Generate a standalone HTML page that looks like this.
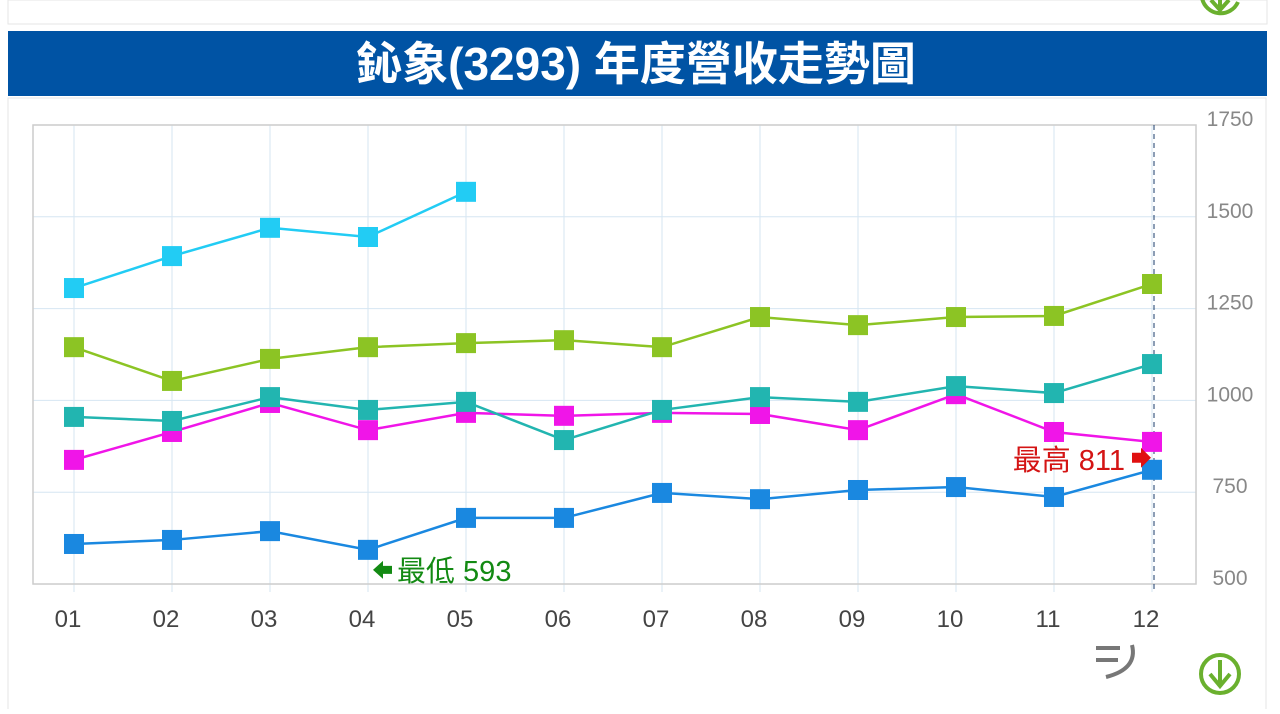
<!DOCTYPE html>
<html><head><meta charset="utf-8"><style>
body{margin:0;width:1280px;height:709px;background:#fff;overflow:hidden;font-family:"Liberation Sans","Noto Sans CJK TC",sans-serif;}
</style></head><body>
<svg width="1280" height="709">
<rect x="8" y="0" width="1259" height="24" fill="#fff" stroke="#e6e6e6"/>
<rect x="8" y="98" width="1258" height="620" fill="#fff" stroke="#e6e6e6"/>
<rect x="8" y="31" width="1259" height="65" fill="#0053a4"/>
<text x="636" y="80" text-anchor="middle" fill="#fff" font-size="46" font-weight="bold" font-family="'Liberation Sans','Noto Sans CJK TC',sans-serif">鈊象(3293) 年度營收走勢圖</text>
<g id="plot"></g>
<path d="M1096 648 h24 M1096 660 h22 M1132 645 q6 24 -26 32" stroke="#777" stroke-width="4" fill="none"/>
<g><circle cx="1220" cy="674" r="19" fill="none" stroke="#6ab02e" stroke-width="4"/><path d="M1220 660 v26 M1210 674 l10 12 10-12" stroke="#6ab02e" stroke-width="4" fill="none"/></g>
<g><path d="M1202 -2 a19 19 0 0 0 36 4" stroke="#6ab02e" stroke-width="4" fill="none"/><path d="M1220 -8 v18 M1211 0 l9 10 9-10" stroke="#6ab02e" stroke-width="4" fill="none"/></g>
</svg>
<script>
const months=["01","02","03","04","05","06","07","08","09","10","11","12"];
const yTicks=[500,750,1000,1250,1500,1750];
const s2024=[1306,1393,1470,1445,1568];
const s2023=[1145,1053,1113,1145,1156,1164,1145,1227,1205,1227,1230,1317];
const s2022=[955,944,1009,974,996,892,974,1009,996,1039,1020,1099];
const s2021=[838,914,993,919,966,958,966,963,919,1017,914,887];
const s2020=[609,620,644,593,680,680,748,731,756,764,737,811];
const minLabel="最低 593", maxLabel="最高 811";
const NS="http://www.w3.org/2000/svg";
const L=33,R=1196,T=125,B=584,x0=74,dx=98;
const X=i=>x0+i*dx, Y=v=>B-(v-500)*(B-T)/1250;
const g=document.getElementById('plot');
function el(t,a,p){const e=document.createElementNS(NS,t);for(const k in a)e.setAttribute(k,a[k]);(p||g).appendChild(e);return e;}
yTicks.forEach(v=>{const l=el('line',{x1:L,x2:R,y1:Y(v),y2:Y(v),stroke:'#d6e6f2'});


const t=el('text',{x:1230,y:Y(v)+1,'text-anchor':'middle','font-size':21,fill:'#888'});t.textContent=v;

});
months.forEach((m,i)=>{const l=el('line',{x1:X(i),x2:X(i),y1:T,y2:B+8,stroke:'#d6e6f2'});


const t=el('text',{x:X(i)-6,y:627,'text-anchor':'middle','font-size':24,fill:'#444'});t.textContent=m;

});
const bd=el('rect',{x:L,y:T,width:R-L,height:B-T,fill:'none',stroke:'#ccc','stroke-width':1.5});


const dl=el('line',{x1:X(11)+2,x2:X(11)+2,y1:T,y2:B+8,stroke:'#1a3b6b','stroke-dasharray':'5,4'});


const series=[[s2020,'#1a88e0','series-2020'],[s2021,'#f015e8','series-2021'],[s2022,'#22b5b0','series-2022'],[s2023,'#8cc424','series-2023'],[s2024,'#22ccf4','series-2024']];
series.forEach(([d,c,n])=>{const sg=el('g',{});


const p=el('polyline',{points:d.map((v,i)=>X(i)+','+Y(v)).join(' '),fill:'none',stroke:c,'stroke-width':2.5},sg);


d.forEach((v,i)=>{const r=el('rect',{x:X(i)-10,y:Y(v)-10,width:20,height:20,fill:c},sg);

});});
const mi=3,my=Y(s2020[3])+20;
const ma=el('path',{d:`M${X(mi)+5} ${my} l10 -9 v5 h9 v8 h-9 v5 z`,fill:'#138a13'});


const mt=el('text',{x:X(mi)+29,y:my+11,'font-size':29,fill:'#138a13'});mt.textContent=minLabel;


const hy=Y(s2020[11])-12;
const ha=el('path',{d:`M${X(11)-20} ${hy-5} h9 v-5 l10 10 -10 10 v-5 h-9 z`,fill:'#e01010'});


const ht=el('text',{x:X(11)-27,y:hy+12,'text-anchor':'end','font-size':29,fill:'#d41414'});ht.textContent=maxLabel;


</script>
</body></html>
